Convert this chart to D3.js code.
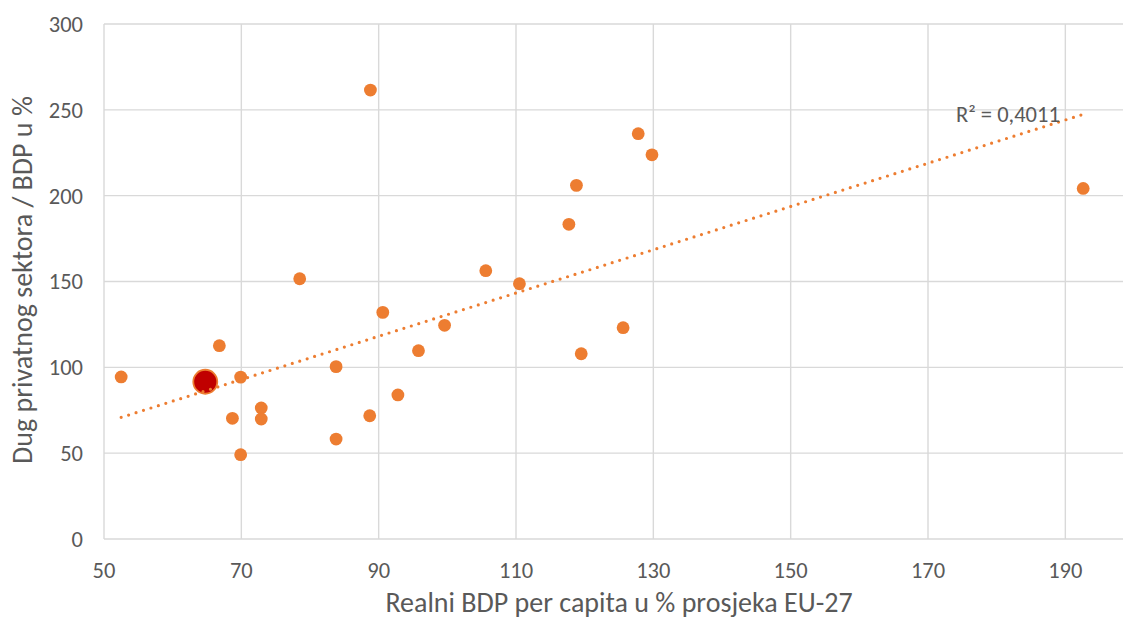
<!DOCTYPE html>
<html>
<head>
<meta charset="utf-8">
<script src="https://cdn.jsdelivr.net/npm/d3@7"></script>
<style>
  html, body { margin: 0; padding: 0; background: #fff; }
  svg { display: block; }
  text { font-family: Calibri, Carlito, "Open Sans", sans-serif; fill: #595959; }
</style>
</head>
<body>
<svg id="chart" width="1123" height="619"></svg>
<script>
// Real GDP per capita (% of EU-27 average) vs. private sector debt (% of GDP)
const gdpPerCapita = [52.5, 66.8, 69.9, 68.7, 69.9, 72.9, 72.9, 83.8, 83.8, 88.7, 90.6, 92.8, 78.5,
                      95.8, 99.6, 88.8, 127.8, 129.8, 118.8, 117.7, 105.6, 110.5, 125.6, 119.5, 192.6];
const privateDebt  = [94.4, 112.6, 94.3, 70.3, 49.1, 76.3, 69.9, 100.4, 58.2, 71.8, 132.0, 83.9, 151.6,
                      109.7, 124.5, 261.5, 236.1, 223.8, 206.0, 183.3, 156.3, 148.7, 123.1, 107.9, 204.2];
// Highlighted country
const highlightX = [64.75];
const highlightY = [91.6];

// Linear trend (slope, intercept) as published with the chart
const trendCoef = [1.26, 4.7];
const rSquaredLabel = "R² = 0,4011";

const xTicks = [50, 70, 90, 110, 130, 150, 170, 190];
const yTicks = [0, 50, 100, 150, 200, 250, 300];
const xTitle = "Realni BDP per capita u % prosjeka EU-27";
const yTitle = "Dug privatnog sektora / BDP u %";

const svg = d3.select("#chart");
const W = 1123;

const x = d3.scaleLinear().domain([50, 200]).range([104, 1134]);
const y = d3.scaleLinear().domain([0, 300]).range([539, 24]);

const grid = svg.append("g");
// horizontal gridlines
grid.selectAll("line.h").data(yTicks).join("line")
  .attr("x1", x(50)).attr("x2", W)
  .attr("y1", d => y(d)).attr("y2", d => y(d))
  .attr("stroke", "#d9d9d9").attr("stroke-width", 1.4);
// vertical gridlines
grid.selectAll("line.v").data(xTicks).join("line")
  .attr("x1", d => x(d)).attr("x2", d => x(d))
  .attr("y1", y(300)).attr("y2", y(0))
  .attr("stroke", "#d9d9d9").attr("stroke-width", 1.4);

// axis tick labels
svg.append("g").selectAll("text").data(yTicks).join("text")
  .attr("x", 83).attr("y", d => y(d)).attr("dy", "0.35em")
  .attr("text-anchor", "end").attr("font-size", 22.5)
  .text(d => d);
svg.append("g").selectAll("text").data(xTicks).join("text")
  .attr("x", d => x(d)).attr("y", 570).attr("dy", "0.35em")
  .attr("text-anchor", "middle").attr("font-size", 22.5)
  .text(d => d);

// axis titles
svg.append("text")
  .attr("x", 619).attr("y", 602).attr("dy", "0.35em")
  .attr("text-anchor", "middle").attr("font-size", 28)
  .text(xTitle);
svg.append("text")
  .attr("transform", "translate(22,280) rotate(-90)")
  .attr("dy", "0.35em")
  .attr("text-anchor", "middle").attr("font-size", 28)
  .text(yTitle);

// scatter points
const pts = d3.zip(gdpPerCapita, privateDebt);
svg.append("g").selectAll("circle").data(pts).join("circle")
  .attr("cx", d => x(d[0])).attr("cy", d => y(d[1]))
  .attr("r", 6.4).attr("fill", "#ed7d31");

svg.append("g").selectAll("circle").data(d3.zip(highlightX, highlightY)).join("circle")
  .attr("cx", d => x(d[0])).attr("cy", d => y(d[1]))
  .attr("r", 12).attr("fill", "#c00000")
  .attr("stroke", "#ed7d31").attr("stroke-width", 1.8);

// dotted trend line across the range of the data
const [x0, x1] = d3.extent(gdpPerCapita.concat(highlightX));
const trend = v => trendCoef[0] * v + trendCoef[1];
svg.append("line")
  .attr("x1", x(x0)).attr("y1", y(trend(x0)))
  .attr("x2", x(x1)).attr("y2", y(trend(x1)))
  .attr("stroke", "#ed7d31").attr("stroke-width", 3.2)
  .attr("stroke-linecap", "round").attr("stroke-dasharray", "0 7.8");

svg.append("text")
  .attr("x", 956).attr("y", 114).attr("dy", "0.35em")
  .attr("font-size", 22.5)
  .text(rSquaredLabel);
</script>
</body>
</html>
